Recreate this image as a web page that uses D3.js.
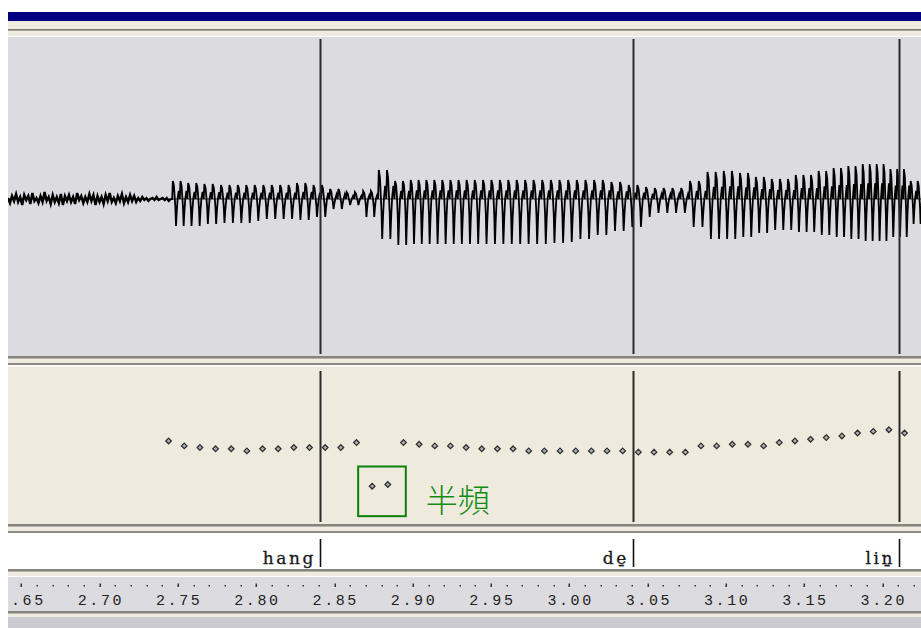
<!DOCTYPE html>
<html><head><meta charset="utf-8">
<script src="https://cdn.jsdelivr.net/npm/d3@7"></script>
<style>html,body{margin:0;padding:0;background:#fff;overflow:hidden}</style>
</head><body>
<svg id="c" width="921" height="628"></svg>
<script>
// ---------------- data ----------------
const axisTicks = [2.65, 2.70, 2.75, 2.80, 2.85, 2.90, 2.95, 3.00, 3.05, 3.10, 3.15, 3.20];
const tickLabels = ["2.65", "2.70", "2.75", "2.80", "2.85", "2.90", "2.95", "3.00", "3.05", "3.10", "3.15", "3.20"];
const segmentLabels = ["hang", "de\u0331", "lin\u0331"];
const segmentEnds = [2.8404, 3.0404, 3.2103];
const pitchStart = 2.744;      // time of first pitch frame (s)
const frameStep = 0.01;        // analysis frame step (s)
const pitchHz = [205, 193, 189, 186, 186, 181, 186, 186, 189, 189, 189, 189, 201, 96, 100, 201,
                 197, 193, 193, 189, 186, 186, 186, 181, 181, 181, 181, 181, 181, 181, 178, 178,
                 178, 178, 193, 193, 197, 197, 193, 201, 205, 209, 213, 217, 224, 228, 232, 224];
const halvedFrames = [13, 14];
const halvedLabel = "半頻";
// waveform envelope per frame (positive / negative peak amplitude)
const ampTop =    [18, 16, 15, 14, 14, 14, 14, 14, 16, 14, 10, 7, 8, 29, 18, 19,
                   19, 19, 19, 19, 19, 19, 19, 19, 19, 19, 19, 19, 17, 14, 12, 11,
                   11, 18, 27, 28, 26, 22, 20, 20, 24, 28, 31, 33, 35, 35, 30, 18, 16];
const ampBottom = [27, 27, 25, 24, 24, 22, 20, 20, 21, 18, 10, 6, 18, 40, 46, 45,
                   45, 45, 45, 45, 45, 45, 45, 45, 44, 43, 40, 36, 32, 28, 18, 14,
                   14, 28, 40, 40, 38, 34, 31, 31, 33, 36, 38, 40, 42, 42, 38, 25, 22];
const voiceStart = 2.7463;
const noiseStart = 2.6414;
const noiseStep = 0.0013;
const noiseSamples = [1,-4,3,-2,5,-3,2,-6,4,-1,3,-5,6,-2,1,-4,3,-3,7,-2,
                      2,-5,4,-3,2,-4,5,-6,3,-2,4,-3,2,-5,6,-1,3,-4,2,-3,
                      5,-2,4,-6,3,-3,2,-5,4,-2,6,-3,1,-4,3,-2,5,-4,2,-3,
                      4,-2,3,-3,1,-2,2,-1,1,-2,0,1,-1,2,-1,0,1,-1,1,-2,0];
const pulsePhase = [0, .08, .22, .32, .42, .5, .6, .72, .86, 1];
const pulseShape = [0, 1, .75, .15, -.35, -1, -.45, .05, .45, 0];

// ---------------- layout ----------------
const W = 921, H = 628, L = 8;
const svg = d3.select("#c");
const x = d3.scaleLinear().domain([2.70, 3.20]).range([99.7, 882.6]);
const tMin = x.invert(L), tMax = x.invert(W);
const yWave = d3.scaleLinear().domain([-160, 160]).range([359, 39]);
const yPitch = d3.scaleLinear().domain([0, 380]).range([526, 368.3]);

function band(y, h, fill) { svg.append("rect").attr("x", L).attr("y", y).attr("width", W - L).attr("height", h).attr("fill", fill); }
svg.append("rect").attr("width", W).attr("height", H).attr("fill", "#fff");
band(12, 9, "#000080");
band(21, 16, "#efebe0");
band(29, 1, "#7a7872"); band(30, 1, "#a8a59c"); band(36, 1, "#ffffff");
band(37, 319, "#dcdbe0");
band(356, 2, "#86847c"); band(358, 1, "#b5b2a8"); band(359, 4, "#efebe0");
band(363, 2, "#8c8a83"); band(365, 2, "#fbfaf6");
band(367, 157, "#eeeade");
band(524, 2, "#86847c"); band(526, 1, "#b5b2a8"); band(527, 4, "#efebe0"); band(531, 2, "#8c8a83");
band(533, 36, "#ffffff");
band(569, 2, "#86847c"); band(571, 1, "#b5b2a8"); band(572, 4, "#efebe0"); band(576, 1, "#ffffff");
band(577, 34, "#dcdce0");
band(611, 2, "#86847c"); band(613, 1, "#b5b2a8"); band(614, 3, "#efebe0");
band(617, 11, "#cbcad0");

const defs = svg.append("defs");
defs.append("clipPath").attr("id", "cw").append("rect").attr("x", L).attr("y", 37).attr("width", W - L).attr("height", 319);
defs.append("clipPath").attr("id", "ca").append("rect").attr("x", L).attr("y", 577).attr("width", W - L).attr("height", 34);

// ---------------- waveform ----------------
const noisePts = noiseSamples.map((v, i) => [noiseStart + i * noiseStep, v]);
const pts = [noisePts[noisePts.length - 1]];
let t = voiceStart;
while (t < tMax + 0.01) {
  let k = Math.floor((t - pitchStart) / frameStep + 1e-9);
  k = Math.max(0, Math.min(ampTop.length - 1, k));
  let f = pitchHz[Math.min(k, pitchHz.length - 1)];
  if (halvedFrames.includes(k)) f *= 2;
  const p = 1 / f;
  pulsePhase.forEach((ph, i) => {
    const s = pulseShape[i];
    pts.push([t + ph * p, s >= 0 ? s * ampTop[k] : s * ampBottom[k]]);
  });
  t += p;
}
const wl = d3.line().x(d => x(d[0])).y(d => yWave(d[1]));
const gw = svg.append("g").attr("clip-path", "url(#cw)");
gw.append("line").attr("x1", L).attr("x2", W).attr("y1", yWave(0)).attr("y2", yWave(0)).attr("stroke", "#222").attr("stroke-width", 1);
gw.append("path").attr("d", wl(noisePts)).attr("fill", "none").attr("stroke", "#000").attr("stroke-width", 2.4);
gw.append("path").attr("d", wl(pts)).attr("fill", "none").attr("stroke", "#000").attr("stroke-width", 1.8);

// boundaries
segmentEnds.forEach(s => {
  const xx = Math.round(x(s)) + 0.5;
  svg.append("line").attr("x1", xx).attr("x2", xx).attr("y1", 39).attr("y2", 354).attr("stroke", "#2a2a2a").attr("stroke-width", 2);
  svg.append("line").attr("x1", xx).attr("x2", xx).attr("y1", 371).attr("y2", 522).attr("stroke", "#2a2a2a").attr("stroke-width", 2);
  svg.append("line").attr("x1", xx).attr("x2", xx).attr("y1", 539).attr("y2", 567).attr("stroke", "#111").attr("stroke-width", 1.6);
});

// ---------------- pitch ----------------
const diamond = "M0,-2.8L2.8,0L0,2.8L-2.8,0Z";
svg.append("g").selectAll("path").data(pitchHz).join("path")
  .attr("d", diamond)
  .attr("transform", (d, i) => `translate(${x(pitchStart + i * frameStep)},${yPitch(d)})`)
  .attr("fill", "#b0b0b0").attr("stroke", "#303030").attr("stroke-width", 1.3);
const hx = halvedFrames.map(i => x(pitchStart + i * frameStep));
const hy = halvedFrames.map(i => yPitch(pitchHz[i]));
const bx0 = d3.min(hx) - 14, bx1 = d3.max(hx) + 18;
const by0 = d3.min(hy) - 18, by1 = d3.max(hy) + 30;
svg.append("rect").attr("x", bx0).attr("y", by0).attr("width", bx1 - bx0).attr("height", by1 - by0)
  .attr("fill", "none").attr("stroke", "#0c820c").attr("stroke-width", 2);
svg.append("text").attr("x", bx1 + 20).attr("y", by1 - 4).text(halvedLabel)
  .attr("font-family", "'Noto Sans CJK TC','Noto Sans CJK SC',sans-serif").attr("font-size", 32)
  .attr("font-weight", 300).attr("fill", "#118c11");

// ---------------- segment labels ----------------
segmentLabels.forEach((lab, i) => {
  svg.append("text").attr("x", Math.round(x(segmentEnds[i])) - 4).attr("y", 564)
    .attr("text-anchor", "end").text(lab)
    .attr("font-family", "'DejaVu Serif',serif").attr("font-size", 17)
    .attr("letter-spacing", 2.6).attr("fill", "#1a1a1a").attr("stroke", "#1a1a1a").attr("stroke-width", 0.3);
});

// ---------------- time axis ----------------
const ga = svg.append("g").attr("clip-path", "url(#ca)");
const minor = d3.range(Math.ceil(tMin * 100), Math.floor(tMax * 100) + 1).map(v => v / 100);
ga.selectAll("rect.t").data(minor).join("rect")
  .attr("x", d => Math.round(x(d)) - 0.5)
  .attr("y", d => (Math.round(d * 100) % 5 === 0) ? 583.5 : 585)
  .attr("width", 1.5).attr("height", d => (Math.round(d * 100) % 5 === 0) ? 3.5 : 1.5)
  .attr("fill", "#333");
ga.selectAll("text").data(axisTicks).join("text")
  .attr("x", d => x(d) + 1.2).attr("y", 605).attr("text-anchor", "middle")
  .text((d, i) => tickLabels[i])
  .attr("font-family", "'Liberation Mono','Courier New',monospace").attr("font-size", 15)
  .attr("letter-spacing", 2.6).attr("fill", "#222");
</script>
</body></html>
